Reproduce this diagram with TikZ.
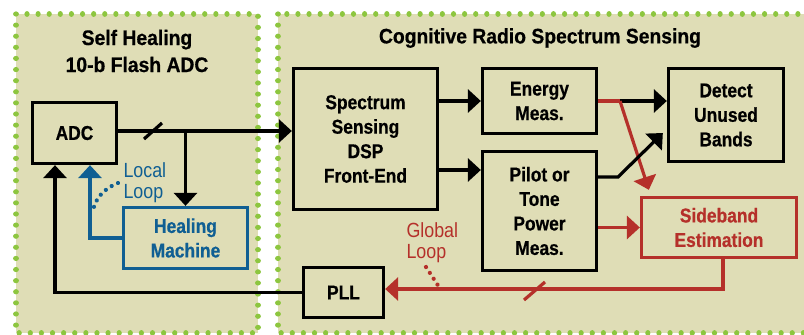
\documentclass[tikz,border=0pt]{standalone}
\usepackage{fontspec}
\setmainfont{Liberation Sans}[FakeStretch=0.87, BoldFeatures={FakeBold=0.6}]
\newfontfamily\titlefont{Liberation Sans Bold}[FakeStretch=0.92, FakeBold=0.6]
\usetikzlibrary{arrows.meta,calc}
\definecolor{panelfill}{RGB}{223,221,182}
\definecolor{dotgreen}{RGB}{141,198,63}
\definecolor{lblue}{RGB}{16,95,147}
\definecolor{lred}{RGB}{181,48,42}
\tikzset{
  panel/.style={fill=panelfill, draw=dotgreen, line width=5.2pt, line cap=round, dash pattern=on 0.01pt off 11.1pt},
  blk/.style={draw, line width=3.3pt, inner sep=0pt, align=center, font=\bfseries\fontsize{20}{24.5}\selectfont},
  conn/.style={line width=3.2pt},
  tip/.style={-{Triangle[length=13pt,width=23pt]}},
  title/.style={align=center, font=\titlefont\fontsize{21}{27}\selectfont},
  loopl/.style={align=left, anchor=west, font=\fontsize{20.5}{21}\selectfont},
  dots/.style={line width=4.2pt, line cap=round, dash pattern=on 0.01pt off 7pt},
}
\begin{document}
\begin{tikzpicture}[x=1pt,y=-1pt]
\useasboundingbox (0,0) rectangle (804,335);
\clip (0,0) rectangle (804,335);
\fill[white] (0,0) rectangle (804,335);
% panels
\draw[panel] (16,14) rectangle (258,333);
\draw[panel] (278,14) rectangle (830,333);
% titles
\node[title] (t1) at (137,51) {Self Healing\\10-b Flash ADC};
\node[title] (t2) at (540,38) {Cognitive Radio Spectrum Sensing};
% boxes
\node[blk, minimum width=84pt, minimum height=61pt] (adc) at (74.5,133) {ADC};
\node[blk, draw=lblue, text=lblue, minimum width=124pt, minimum height=61pt] (hm) at (185.5,238) {Healing\\Machine};
\node[blk, minimum width=144pt, minimum height=141pt] (ssd) at (365.5,139) {Spectrum\\Sensing\\DSP\\Front-End};
\node[blk, minimum width=114pt, minimum height=65pt] (en) at (539.5,101) {Energy\\Meas.};
\node[blk, minimum width=114pt, minimum height=119pt] (pil) at (539.5,211) {Pilot or\\Tone\\Power\\Meas.};
\node[blk, minimum width=115pt, minimum height=93pt] (det) at (726,115) {Detect\\Unused\\Bands};
\node[blk, draw=lred, text=lred, minimum width=155pt, minimum height=60pt] (sb) at (719,227.5) {Sideband\\Estimation};
\node[blk, minimum width=80pt, minimum height=50pt] (pll) at (343.5,292.5) {PLL};
% ADC output bus
\coordinate (adcout) at ($(adc.east)+(0,-2)$);
\coordinate (br) at (hm.north |- adcout);
\draw[conn,tip] (adcout) -- (ssd.west |- adcout);
\draw[conn] (144,139) -- (162,123);
\draw[conn,tip] (br) -- (hm.north);
% local loop
\coordinate (adcb1) at ($(adc.south)+(15.5,0)$);
\draw[conn,lblue,tip] (hm.west) -| (adcb1);
\node[loopl, text=lblue] (ll) at (120,182.5) {Local\\Loop};
\draw[dots, lblue] (118,183) .. controls (105,188) and (95,198) .. (93,211);
% PLL to ADC
\coordinate (adcb2) at ($(adc.south)+(-19.5,0)$);
\draw[conn,tip] (pll.west) -| (adcb2);
% DSP outputs
\draw[conn,tip] (ssd.east |- en.west) -- (en.west);
\coordinate (s2) at (ssd.east |- 0,170);
\draw[conn,tip] (s2) -- (pil.west |- s2);
% energy outputs
\coordinate (ej) at (620,101);
\draw[conn,lred] (en.east) -- (ej);
\draw[conn,tip] (ej) -- (det.west |- ej);
\coordinate (sbtop) at ($(sb.north west)+(9,-6)$);
\draw[conn,lred,tip] (ej) -- (sbtop);
% pilot outputs
\coordinate (p1) at (pil.east |- 0,177);
\coordinate (dtip) at ($(det.west)+(-4,18)$);
\draw[conn,tip] (p1) -- (618,177) -- (dtip);
\draw[conn,lred,tip] (sb.west -| pil.east) -- (sb.west);
% sideband to PLL
\coordinate (sbo) at ($(sb.south)+(4,0)$);
\coordinate (pin) at (pll.east |- 0,289);
\draw[conn,lred,tip] (sbo) |- (pin);
\draw[conn,lred] (524,300) -- (545,282);
\node[loopl, text=lred] (gl) at (403,243) {Global\\Loop};
\draw[dots, lred] (426,267) -- (441,290);
\end{tikzpicture}
\end{document}
